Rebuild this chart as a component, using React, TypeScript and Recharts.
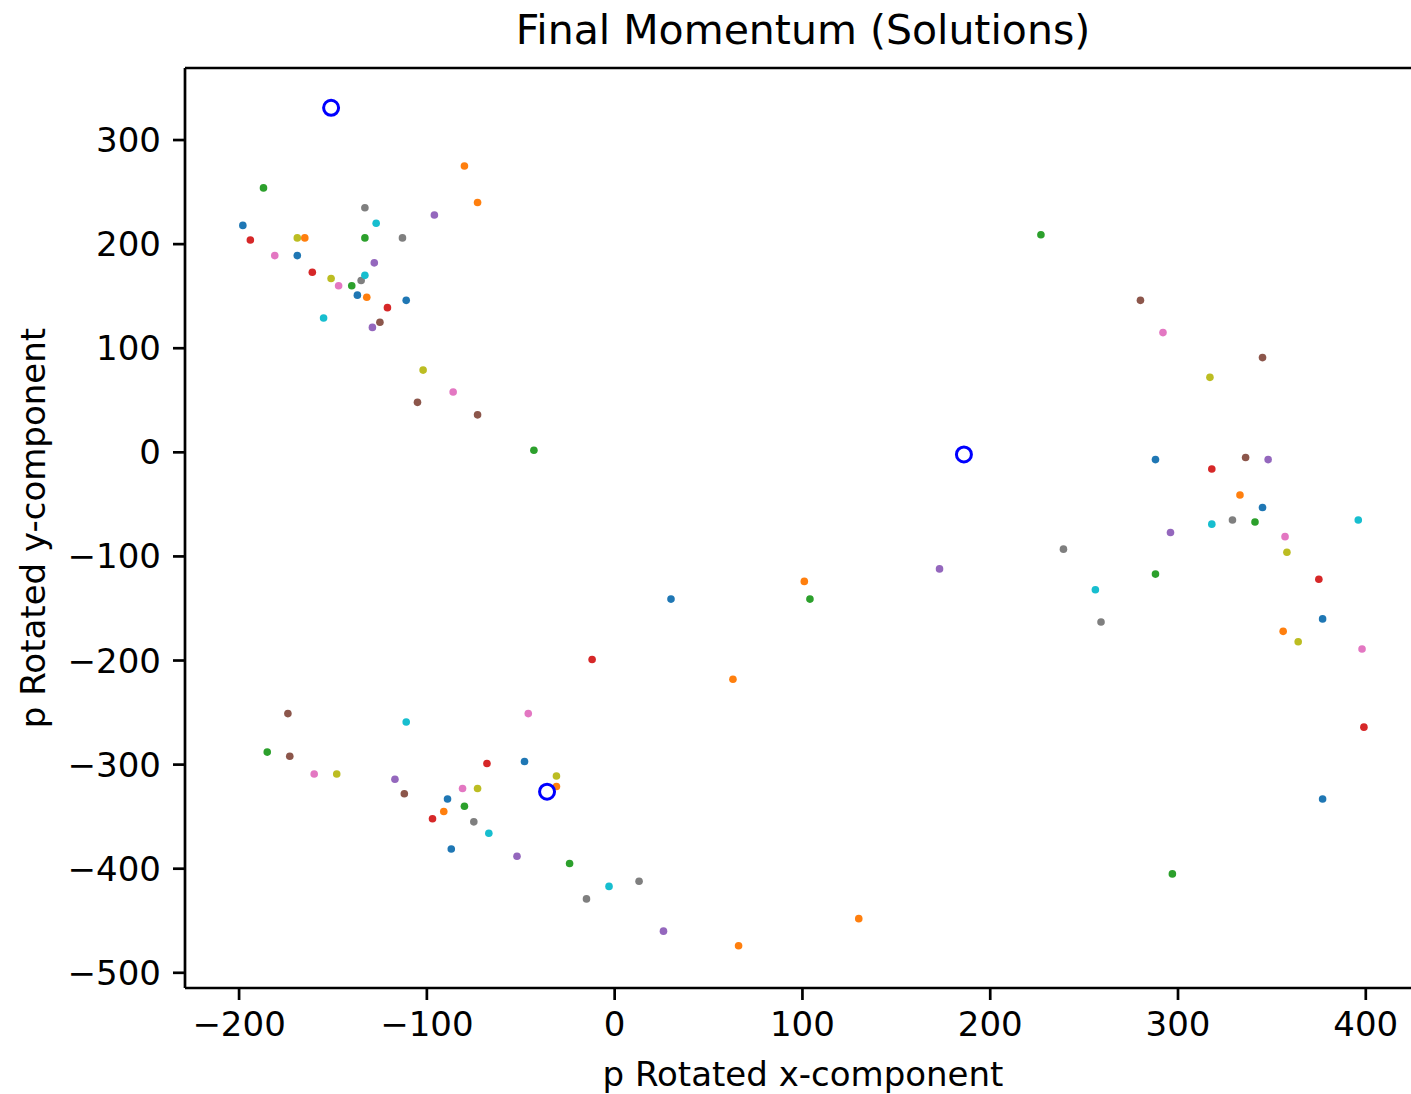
import { ScatterChart, Scatter, XAxis, YAxis, ReferenceLine } from 'recharts'

type Pt = { x: number; y: number }
const P = (x: number, y: number): Pt => ({ x, y })

// final momenta, grouped by the colour cycle they were drawn with
const blueDots   = [P(-198, 218), P(-169, 189), P(-137, 151), P(-111, 146), P(-48, -297), P(-89, -333), P(-87, -381), P(30, -141), P(288, -7), P(345, -53), P(377, -160), P(377, -333)]
const orangeDots = [P(-80, 275), P(-73, 240), P(-165, 206), P(-132, 149), P(-31, -321), P(-91, -345), P(101, -124), P(63, -218), P(130, -448), P(66, -474), P(333, -41), P(356, -172)]
const greenDots  = [P(-187, 254), P(-133, 206), P(-140, 160), P(-43, 2), P(-185, -288), P(-80, -340), P(-24, -395), P(104, -141), P(227, 209), P(341, -67), P(288, -117), P(297, -405)]
const redDots    = [P(-194, 204), P(-161, 173), P(-121, 139), P(-68, -299), P(-97, -352), P(-12, -199), P(318, -16), P(375, -122), P(399, -264)]
const purpleDots = [P(-96, 228), P(-128, 182), P(-129, 120), P(-117, -314), P(-52, -388), P(26, -460), P(348, -7), P(296, -77), P(173, -112)]
const brownDots  = [P(-125, 125), P(-105, 48), P(-73, 36), P(-174, -251), P(-173, -292), P(-112, -328), P(280, 146), P(345, 91), P(336, -5)]
const pinkDots   = [P(-181, 189), P(-147, 160), P(-86, 58), P(-46, -251), P(-160, -309), P(-81, -323), P(292, 115), P(357, -81), P(398, -189)]
const grayDots   = [P(-133, 235), P(-113, 206), P(-135, 165), P(-75, -355), P(-15, -429), P(13, -412), P(329, -65), P(239, -93), P(259, -163)]
const oliveDots  = [P(-169, 206), P(-151, 167), P(-102, 79), P(-148, -309), P(-31, -311), P(-73, -323), P(317, 72), P(358, -96), P(364, -182)]
const cyanDots   = [P(-127, 220), P(-133, 170), P(-155, 129), P(-111, -259), P(-67, -366), P(-3, -417), P(396, -65), P(318, -69), P(256, -132)]

// the three solution markers (open circles)
const solutions = [P(-151, 331), P(-36, -326), P(186, -2)]

const xTicks = [-200, -100, 0, 100, 200, 300, 400]
const yTicks = [-500, -400, -300, -200, -100, 0, 100, 200, 300]

const series: [Pt[], string][] = [
  [blueDots, '#1f77b4'], [orangeDots, '#ff7f0e'], [greenDots, '#2ca02c'], [redDots, '#d62728'],
  [purpleDots, '#9467bd'], [brownDots, '#8c564b'], [pinkDots, '#e377c2'], [grayDots, '#7f7f7f'],
  [oliveDots, '#bcbd22'], [cyanDots, '#17becf'],
]

const X_DOMAIN: [number, number] = [-228.8, 429.4]
const Y_DOMAIN: [number, number] = [-514.6, 369.2]

const font = '"DejaVu Sans", sans-serif'
const fmt = (v: number) => (v < 0 ? '\u2212' + Math.abs(v) : String(v))
const tickStyle = { fontSize: 34, fill: '#000', fontFamily: font }
const line = { stroke: '#000', strokeWidth: 2.7 }

export default function App() {
  return (
    <div style={{ position: 'fixed', left: 0, top: 0, width: 1411, height: 1094, overflow: 'hidden', background: '#fff', fontFamily: font }}>
      <div style={{ position: 'absolute', left: 0, width: 1606, top: 6, textAlign: 'center', fontSize: 41, lineHeight: '48px' }}>
        Final Momentum (Solutions)
      </div>
      <div style={{ position: 'absolute', left: 0, width: 1606, top: 1052, textAlign: 'center', fontSize: 34, lineHeight: '44px' }}>
        p Rotated x-component
      </div>
      <div style={{ position: 'absolute', left: 33 - 300, top: 528 - 22, width: 600, textAlign: 'center', fontSize: 34, lineHeight: '44px', transform: 'rotate(-90deg)' }}>
        p Rotated y-component
      </div>

      <ScatterChart width={1430} height={1094} margin={{ top: 68, right: 9, bottom: 0, left: 0 }}>
        <XAxis type="number" dataKey="x" domain={X_DOMAIN} allowDataOverflow ticks={xTicks}
          tickFormatter={fmt} tick={tickStyle} tickSize={12} tickMargin={12} height={106}
          axisLine={line} tickLine={line} />
        <YAxis type="number" dataKey="y" domain={Y_DOMAIN} allowDataOverflow ticks={yTicks}
          tickFormatter={fmt} tick={tickStyle} tickSize={12} tickMargin={12} width={185}
          axisLine={line} tickLine={line} />
        {/* top and right spines */}
        <ReferenceLine y={Y_DOMAIN[1]} stroke="#000" strokeWidth={2.7} ifOverflow="visible" />
        <ReferenceLine x={X_DOMAIN[1]} stroke="#000" strokeWidth={2.7} ifOverflow="visible" />
        {series.map(([pts, color], i) => (
          <Scatter key={i} data={pts} isAnimationActive={false}
            shape={(p: any) => <circle cx={p.cx} cy={p.cy} r={3.8} fill={color} />} />
        ))}
        <Scatter data={solutions} isAnimationActive={false}
          shape={(p: any) => <circle cx={p.cx} cy={p.cy} r={7.5} fill="none" stroke="#0000ff" strokeWidth={3} />} />
      </ScatterChart>
    </div>
  )
}
